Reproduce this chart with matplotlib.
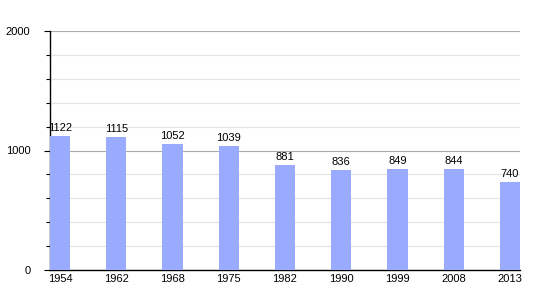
import matplotlib
matplotlib.use('Agg')
import matplotlib.pyplot as plt
from matplotlib.ticker import MultipleLocator

plt.rcParams['font.family'] = ['Liberation Sans', 'DejaVu Sans']

years = ["1954", "1962", "1968", "1975", "1982", "1990", "1999", "2008", "2013"]
population = [1122, 1115, 1052, 1039, 881, 836, 849, 844, 740]

fig = plt.figure(figsize=(5.5, 3), dpi=100)
ax = fig.add_axes([50 / 550, 1 - 270 / 300, 470 / 550, 239 / 300])

x = list(range(len(years)))
ax.bar(x, population, width=0.36, color='#99aaff', zorder=3)
for xi, v in zip(x, population):
    ax.text(xi, v + 25, str(v), ha='center', va='bottom', fontsize=8, zorder=4)

ax.set_xlim(-0.18, len(years) - 1 + 0.18)
ax.set_ylim(0, 2000)
ax.set_xticks(x)
ax.set_xticklabels(years)
ax.yaxis.set_major_locator(MultipleLocator(1000))
ax.yaxis.set_minor_locator(MultipleLocator(200))
ax.grid(axis='y', which='major', color='#aaaaaa', linewidth=0.8, zorder=0)
ax.grid(axis='y', which='minor', color='#e4e4e4', linewidth=0.8, zorder=0)

ax.tick_params(axis='x', length=0, labelsize=8, pad=3)
ax.tick_params(axis='y', which='major', length=4, width=0.8, labelsize=8, pad=10)
ax.tick_params(axis='y', which='minor', length=3, width=0.8)
for s in ['top', 'right']:
    ax.spines[s].set_visible(False)
ax.spines['left'].set_linewidth(1)
ax.spines['bottom'].set_linewidth(1)

plt.savefig("out.png")
